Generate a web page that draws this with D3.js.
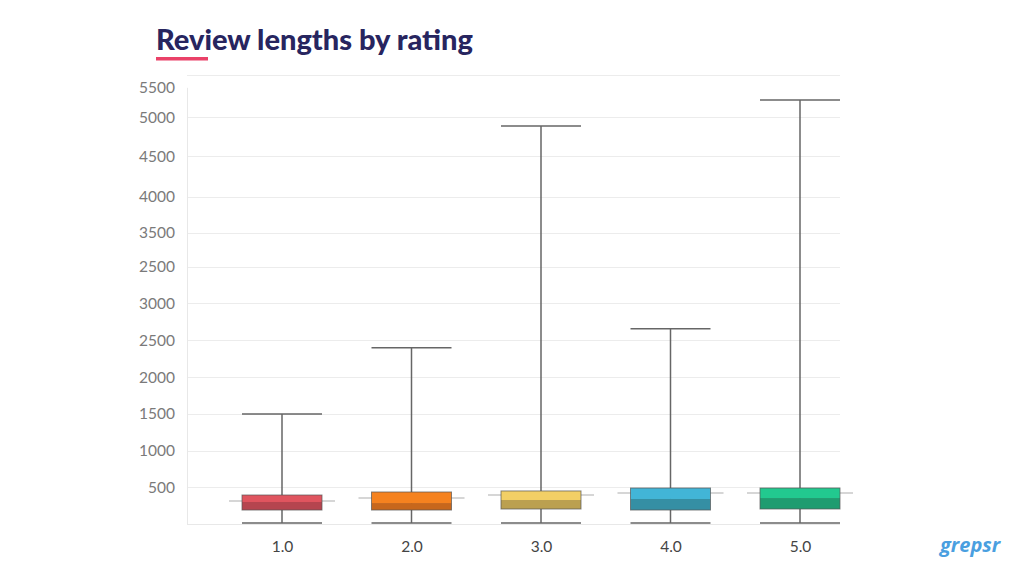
<!DOCTYPE html>
<html><head><meta charset="utf-8">
<script src="https://cdn.jsdelivr.net/npm/d3@7"></script>
<style>body{margin:0;background:#fff;}svg{display:block;}</style>
</head><body>
<svg id="c" width="1024" height="576"></svg>
<script>
const categories = ["1.0","2.0","3.0","4.0","5.0"];
const minVals    = [18, 18, 18, 18, 18];
const q1Vals     = [194, 194, 208, 194, 208];
const medianVals = [303, 289, 330, 344, 357];
const q3Vals     = [398, 439, 453, 493, 493];
const maxVals    = [1500, 2400, 5410, 2655, 5765];
const meanVals   = [317, 357, 398, 425, 425];
const upperColors = ["#e0555f","#f5821f","#f2cf66","#42b5d7","#22c98f"];
const lowerColors = ["#b5454f","#c7671c","#bba050","#358fa4","#1f9c70"];
const tickValues = [500,1000,1500,2000,2500,3000,3500,3960,4450,5000,5530,5930];
const tickLabels = ["500","1000","1500","2000","2500","3000","2500","3500","4000","4500","5000","5500"];

const svg = d3.select("#c");
const y = d3.scaleLinear().domain([0, 6100]).range([524.3, 75.3]);
const x = d3.scalePoint().domain(categories).range([282, 800]);
const left = 187, right = 840, boxW = 80, meanW = 106;

// title
svg.append("text").attr("x",156).attr("y",50).text("Review lengths by rating")
  .attr("font-family","Lato, 'Open Sans', sans-serif").attr("font-weight",900)
  .attr("font-size",29).attr("fill","#27255f");
svg.append("rect").attr("x",156).attr("y",57).attr("width",52).attr("height",3.5).attr("fill","#ea4168");

// grid
const g = svg.append("g");
g.selectAll("line.grid").data(tickValues.slice(0,-1).concat([6100])).join("line")
  .attr("x1",left).attr("x2",right).attr("y1",d=>Math.round(y(d))+0.5).attr("y2",d=>Math.round(y(d))+0.5)
  .attr("stroke","#ececec").attr("stroke-width",1);
g.append("line").attr("x1",left).attr("x2",right).attr("y1",Math.round(y(0))+0.5).attr("y2",Math.round(y(0))+0.5)
  .attr("stroke","#e8e8e8");
g.append("line").attr("x1",left+0.5).attr("x2",left+0.5).attr("y1",y(5930)).attr("y2",y(0))
  .attr("stroke","#e8e8e8");

// y axis labels
const yAxis = d3.axisLeft(y).tickValues(tickValues).tickFormat((d,i)=>tickLabels[i]).tickSize(0).tickPadding(0);
const ya = svg.append("g").attr("transform","translate(175,0)").call(yAxis);
ya.select(".domain").remove();
ya.selectAll("text").attr("font-family","Lato, sans-serif").attr("font-size",15.5).attr("fill","#7a7a7a");

// x axis labels
const xAxis = d3.axisBottom(x).tickSize(0).tickPadding(0);
const xa = svg.append("g").attr("transform","translate(0,541)").call(xAxis);
xa.select(".domain").remove();
xa.selectAll("text").attr("font-family","Lato, sans-serif").attr("font-size",15.5).attr("fill","#444");

// boxes
const data = categories.map((c,i)=>({c,min:minVals[i],q1:q1Vals[i],med:medianVals[i],q3:q3Vals[i],max:maxVals[i],mean:meanVals[i],up:upperColors[i],lo:lowerColors[i]}));
const b = svg.selectAll("g.box").data(data).join("g").attr("class","box");
b.append("line").attr("x1",d=>x(d.c)-meanW/2).attr("x2",d=>x(d.c)+meanW/2)
  .attr("y1",d=>y(d.mean)).attr("y2",d=>y(d.mean)).attr("stroke","#c8c8c8").attr("stroke-width",1.5);
b.append("line").attr("x1",d=>x(d.c)).attr("x2",d=>x(d.c)).attr("y1",d=>y(d.max)).attr("y2",d=>y(d.min))
  .attr("stroke","#666").attr("stroke-width",1.5);
b.append("line").attr("x1",d=>x(d.c)-boxW/2).attr("x2",d=>x(d.c)+boxW/2).attr("y1",d=>y(d.max)).attr("y2",d=>y(d.max))
  .attr("stroke","#666").attr("stroke-width",1.5);
b.append("line").attr("x1",d=>x(d.c)-boxW/2).attr("x2",d=>x(d.c)+boxW/2).attr("y1",d=>y(d.min)).attr("y2",d=>y(d.min))
  .attr("stroke","#666").attr("stroke-width",1.5);
b.append("rect").attr("x",d=>x(d.c)-boxW/2).attr("width",boxW).attr("y",d=>y(d.q3)).attr("height",d=>y(d.med)-y(d.q3))
  .attr("fill",d=>d.up);
b.append("rect").attr("x",d=>x(d.c)-boxW/2).attr("width",boxW).attr("y",d=>y(d.med)).attr("height",d=>y(d.q1)-y(d.med))
  .attr("fill",d=>d.lo);
b.append("rect").attr("x",d=>x(d.c)-boxW/2).attr("width",boxW).attr("y",d=>y(d.q3)).attr("height",d=>y(d.q1)-y(d.q3))
  .attr("fill","none").attr("stroke","#555").attr("stroke-width",1).attr("stroke-opacity",0.7);

// logo
svg.append("text").attr("x",940).attr("y",552).text("grepsr")
  .attr("font-family","'Open Sans', sans-serif").attr("font-weight","bold").attr("font-style","italic")
  .attr("font-size",20).attr("fill","#4a9fe0");
</script>
</body></html>
